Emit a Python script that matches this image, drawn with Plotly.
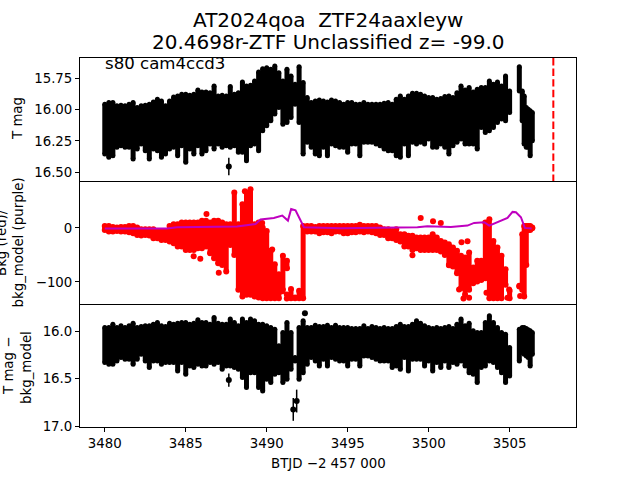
import plotly.graph_objects as go
from plotly.subplots import make_subplots

FONT = "DejaVu Sans"

# --- DATA ---
btjd = [3480.0, 3480.25, 3480.5, 3480.75, 3481.0, 3481.25, 3481.5, 3481.75, 3482.0, 3482.25,
        3482.5, 3482.75, 3483.0, 3483.25, 3483.5, 3483.75, 3484.0, 3484.25, 3484.5, 3484.75,
        3485.0, 3485.25, 3485.5, 3485.75, 3486.0, 3486.25, 3486.5, 3486.75, 3487.0, 3487.25,
        3487.5, 3487.75, 3488.0, 3488.25, 3488.5, 3488.75, 3489.0, 3489.25, 3489.5, 3489.75,
        3490.0, 3490.25, 3490.5, 3490.75, 3491.0, 3491.25, 3491.5, 3491.75, 3492.0, 3492.25,
        3492.5, 3492.75, 3493.0, 3493.25, 3493.5, 3493.75, 3494.0, 3494.25, 3494.5, 3494.75,
        3495.0, 3495.25, 3495.5, 3495.75, 3496.0, 3496.25, 3496.5, 3496.75, 3497.0, 3497.25,
        3497.5, 3497.75, 3498.0, 3498.25, 3498.5, 3498.75, 3499.0, 3499.25, 3499.5, 3499.75,
        3500.0, 3500.25, 3500.5, 3500.75, 3501.0, 3501.25, 3501.5, 3501.75, 3502.0, 3502.25,
        3502.5, 3502.75, 3503.0, 3503.25, 3503.5, 3503.75, 3504.0, 3504.25, 3504.5, 3504.75,
        3505.0, 3505.6, 3505.78, 3505.9, 3506.03, 3506.15, 3506.27, 3506.4]

# T mag, upper and lower edge of the black band
tmag_top = [15.938, 15.925, 15.925, 15.951, 15.946, 15.951, 15.938, 15.925, 15.965, 15.951,
            15.946, 15.938, 15.92, 15.898, 15.912, 15.951, 15.912, 15.88, 15.872, 15.859,
            15.859, 15.867, 15.859, 15.824, 15.84, 15.84, 15.846, 15.793, 15.872, 15.867,
            15.872, 15.798, 15.859, 15.846, 15.761, 15.793, 15.787, 15.753, 15.681, 15.655,
            15.647, 15.66, 15.634, 15.687, 15.753, 15.66, 15.713, 15.779, 15.639, 15.766,
            15.885, 15.925, 15.912, 15.904, 15.912, 15.92, 15.904, 15.912, 15.925, 15.938,
            15.925, 15.925, 15.938, 15.938, 15.925, 15.938, 15.938, 15.938, 15.938, 15.93,
            15.925, 15.938, 15.898, 15.872, 15.898, 15.872, 15.851, 15.851, 15.859, 15.872,
            15.885, 15.885, 15.898, 15.893, 15.877, 15.872, 15.885, 15.846, 15.793, 15.824,
            15.806, 15.84, 15.819, 15.806, 15.806, 15.753, 15.779, 15.761, 15.793, 15.713,
            15.832, 15.639, 15.832, 15.872, 15.965, 15.978, 15.991, 16.004]
tmag_bot = [16.375, 16.401, 16.388, 16.322, 16.309, 16.322, 16.322, 16.414, 16.335, 16.295,
            16.348, 16.414, 16.335, 16.348, 16.401, 16.375, 16.335, 16.322, 16.388, 16.309,
            16.441, 16.335, 16.375, 16.309, 16.375, 16.348, 16.295, 16.335, 16.295, 16.322,
            16.309, 16.322, 16.309, 16.361, 16.361, 16.428, 16.309, 16.295, 16.348, 16.19,
            16.15, 16.11, 16.057, 16.004, 16.137, 16.123, 16.084, 15.978, 16.123, 16.375,
            16.282, 16.322, 16.375, 16.388, 16.322, 16.388, 16.295, 16.309, 16.322, 16.322,
            16.361, 16.295, 16.295, 16.388, 16.282, 16.282, 16.282, 16.295, 16.309, 16.335,
            16.348, 16.348, 16.388, 16.401, 16.295, 16.388, 16.282, 16.295, 16.282, 16.295,
            16.256, 16.322, 16.322, 16.295, 16.322, 16.375, 16.309, 16.282, 16.256, 16.295,
            16.295, 16.295, 16.335, 16.163, 16.203, 16.19, 16.163, 16.123, 16.097, 16.11,
            16.044, 15.872, 16.11, 16.295, 16.322, 16.322, 16.388, 16.269]

# Background flux, upper and lower edge of the red band
bkg_top = [9.3, 9.3, 7.4, 6.2, 7.4, 7.4, 9.3, 9.3, 6.2, 3.1,
           3.1, 3.1, 3.1, 0, 0, 0, 9.3, 12.4, 12.4, 15.5,
           15.5, 15.5, 15.5, 15.5, 18.6, 18.6, 15.5, 18.6, 18.6, 15.5,
           12.4, 12.4, 71, 12.4, 49.4, 71, 77.2, 12.4, 15.5, 6.2,
           0, -37, -61.7, -80.2, -46.2, -55.5, -107.9, -123.4, -111, 9.3,
           9.3, 9.3, 7.4, 9.3, 9.3, 9.3, 9.3, 9.3, 9.3,
           9.3, 9.3, 9.3, 9.3, 11.2, 9.3, 9.3, 9.3, 9.3, 6.2,
           3.1, 3.1, 0, 3.1, -6.1, -6.1, -9.2, -9.2, -12.3, -12.3,
           -12.3, -12.3, -6.1, -12.3, -18.5, -21.5, -24.6, -30.8, -37, -46.2,
           -49.3, -40, -67.8, -55.5, -55.5, 15.5, 21.6, -18.5, -30.8, -46.2,
           -70.9, -111, -101.8, -6.1, 9.3, 9.3, 9.3, 9.3, 6.2][:108]
bkg_bot = [-9.2, -12.3, -12.3, -11, -12.3, -12.3, -13.5, -15.4, -18.5, -19.7,
           -18.5, -19.7, -24.6, -24.6, -27.7, -27.7, -30.8, -33.9, -40, -40,
           -46.2, -46.2, -46.2, -43, -43, -40, -52.4, -61.7, -70.9, -74,
           -86.3, -37, -55.5, -120.3, -132.6, -129.5, -129.5, -132.6, -134.5, -135.7,
           -135.7, -135.7, -135.7, -135.7, -120.3, -80.2, -135.7, -135.7, -135.7, -135.7,
           -12.3, -12.3, -12.3, -15.4, -13.5, -13.5, -15.4, -12.3, -12.3,
           -15.4, -15.4, -13.5, -13.5, -12.3, -13.5, -12.3, -13.5, -15.4, -18.5,
           -18.5, -24.6, -24.6, -27.7, -30.8, -40, -40, -46.2, -43.1, -46.2,
           -46.2, -46.2, -46.2, -46.2, -49.3, -55.5, -74, -77.1, -89.4, -117.2,
           -129.5, -120.3, -107.9, -104.8, -101.8, -98.7, -135.7, -135.7, -135.7, -135.7,
           -111, -135.7, -114, -120.3, -132.6, -74, -9.2, -9.2, -6.1][:108]

# Scattered red points outside the band
bkg_pts_t = [3485.49, 3485.9, 3486.28, 3487.04, 3488.65, 3489.72, 3490.34, 3491.24, 3490.96, 3491.5,
             3491.24, 3490.75, 3499.0, 3499.51, 3500.27, 3500.75, 3502.03, 3502.4, 3501.26, 3501.88,
             3502.15, 3502.5, 3503.57, 3504.97, 3504.87, 3505.65, 3506.2]
bkg_pts_v = [-52.4, -57.3, 26, -83.2, 67.9, 9.3, -40, -123.4, -117.2, -129.5,
             -130.8, -120.3, -50.5, 18.6, 12.4, 9.3, -26.5, -24.6, -69, -114,
             -130.8, -129.5, -120.3, -114, -129.5, -126.4, 0]

model_t = [3480.0, 3483.84, 3484.46, 3487.35, 3488.17, 3489.31, 3489.62, 3490.44, 3490.96, 3491.31,
           3491.51, 3491.78, 3492.3, 3494.56, 3497.76, 3499.31, 3499.92, 3501.37, 3502.4, 3502.81,
           3503.43, 3503.74, 3504.87, 3505.18, 3505.39, 3505.7, 3505.94, 3506.36]
model_v = [-1.2, -1.2, 1.3, 1.9, 2.5, 7.4, 15.5, 18.6, 22.9, 13.6,
           35.2, 32.8, 1.3, -0.6, 0, 1.3, 3.1, 1.9, 4.4, 9.3,
           10.5, 4.4, 18.6, 29.7, 29, 19.8, 0, -1.2]

# T mag minus model, upper and lower edge of the black band
sub_top = [15.937, 15.937, 15.902, 15.937, 15.92, 15.937, 15.92, 15.892, 15.937, 15.927,
           15.92, 15.92, 15.902, 15.885, 15.92, 15.927, 15.892, 15.902, 15.892, 15.885,
           15.885, 15.902, 15.892, 15.856, 15.885, 15.885, 15.902, 15.832, 15.892, 15.902,
           15.902, 15.849, 15.885, 15.92, 15.849, 15.885, 15.849, 15.867, 15.902, 15.902,
           15.92, 15.937, 15.955, 16.13, 15.99, 15.885, 15.99, 16.253, 15.937, 15.867,
           15.937, 15.937, 15.913, 15.927, 15.927, 15.913, 15.937, 15.913, 15.937,
           15.937, 15.937, 15.948, 15.948, 15.948, 15.92, 15.948, 15.927, 15.937, 15.948,
           15.937, 15.948, 15.948, 15.927, 15.902, 15.927, 15.927, 15.902, 15.867, 15.892,
           15.92, 15.937, 15.948, 15.937, 15.948, 15.937, 15.927, 15.948, 15.902, 15.849,
           15.92, 15.892, 15.972, 15.99, 15.99, 15.885, 15.814, 15.885, 15.937, 15.99,
           16.007, 16.148, 15.955, 15.937, 15.937, 15.948, 15.962, 15.972, 15.99][:108]
sub_bot = [16.358, 16.376, 16.376, 16.341, 16.306, 16.323, 16.323, 16.376, 16.323, 16.271,
           16.341, 16.411, 16.341, 16.341, 16.376, 16.358, 16.358, 16.358, 16.446, 16.358,
           16.481, 16.393, 16.411, 16.376, 16.393, 16.393, 16.358, 16.376, 16.358, 16.428,
           16.393, 16.393, 16.411, 16.428, 16.516, 16.621, 16.464, 16.464, 16.621, 16.657,
           16.534, 16.569, 16.481, 16.464, 16.569, 16.534, 16.428, 16.341, 16.534, 16.464,
           16.376, 16.306, 16.341, 16.393, 16.323, 16.393, 16.306, 16.323, 16.341,
           16.341, 16.393, 16.323, 16.323, 16.393, 16.288, 16.288, 16.306, 16.323, 16.341,
           16.341, 16.341, 16.411, 16.393, 16.428, 16.306, 16.446, 16.323, 16.323, 16.323,
           16.393, 16.341, 16.446, 16.358, 16.411, 16.341, 16.411, 16.358, 16.376, 16.341,
           16.393, 16.464, 16.481, 16.569, 16.411, 16.393, 16.341, 16.358, 16.411, 16.464,
           16.569, 16.499, 16.341, 16.253, 16.271, 16.288, 16.306, 16.393, 16.271][:108]

# Points that sit away from the bands, with their error bars
t_out_t = [3487.66]
t_out_m = [16.454]
t_out_e = [0.07]
sub_out_t = [3487.66, 3491.64, 3491.85, 3492.36]
sub_out_m = [16.516, 16.825, 16.737, 15.814]
sub_out_e = [0.07, 0.12, 0.12, 0.02]

alert_t = [3507.7, 3507.7]
alert_y = [15.59, 16.57]

fig = make_subplots(rows=3, cols=1, shared_xaxes=True, vertical_spacing=0)


def add_band(row, top, bot, color, inset, size):
    # the lists hold the outer edge of the blob, marker centres sit a bit inside it
    n = min(len(top), len(bot))
    t = btjd[:n]
    y0 = [v + inset for v in top[:n]]
    y1 = [v - inset for v in bot[:n]]
    fig.add_trace(go.Scatter(
        x=t, y=y0, mode="markers", marker=dict(color=color, size=size),
        error_y=dict(type="data", symmetric=False,
                     array=[max(b - a, 0) for a, b in zip(y0, y1)],
                     arrayminus=[max(a - b, 0) for a, b in zip(y0, y1)],
                     color=color, thickness=5, width=0),
    ), row=row, col=1)
    fig.add_trace(go.Scatter(x=t, y=y1, mode="markers", marker=dict(color=color, size=size)), row=row, col=1)


def add_points(row, t, m, e):
    fig.add_trace(go.Scatter(
        x=t, y=m, mode="markers", marker=dict(color="black", size=6),
        error_y=dict(type="data", array=e, color="black", thickness=1.5, width=0),
    ), row=row, col=1)


add_band(1, tmag_top, tmag_bot, "black", 0.02, 5)
add_points(1, t_out_t, t_out_m, t_out_e)
fig.add_trace(go.Scatter(x=alert_t, y=alert_y, mode="lines",
                         line=dict(color="red", width=2, dash="7.4px,3.2px")), row=1, col=1)

add_band(2, bkg_top, bkg_bot, "red", -5.5, 6)
fig.add_trace(go.Scatter(x=bkg_pts_t, y=bkg_pts_v, mode="markers",
                         marker=dict(color="red", size=6)), row=2, col=1)
fig.add_trace(go.Scatter(x=model_t, y=model_v, mode="lines",
                         line=dict(color="#bf00bf", width=2)), row=2, col=1)

add_band(3, sub_top, sub_bot, "black", 0.026, 5)
add_points(3, sub_out_t, sub_out_m, sub_out_e)

axis_style = dict(showline=True, linecolor="black", linewidth=1,
                  showgrid=False, zeroline=False, tickcolor="black", ticklen=4, tickwidth=1,
                  tickfont=dict(family=FONT, size=13.33, color="black"))
fig.update_xaxes(**axis_style)
fig.update_yaxes(**axis_style, ticks="outside", mirror=True)
fig.update_xaxes(range=[3478.47, 3509.1], ticks="", showticklabels=False)
# only the top panel mirrors its x line, so the shared edges are not drawn twice
fig.update_xaxes(mirror=True, row=1, col=1)
fig.update_xaxes(ticks="outside", showticklabels=True, tickvals=[3480, 3485, 3490, 3495, 3500, 3505],
                 tickformat="d", row=3, col=1)
fig.update_yaxes(range=[16.57, 15.59], tickvals=[15.75, 16.0, 16.25, 16.5], tickformat=".2f", row=1, col=1)
fig.update_yaxes(range=[-141, 87], tickvals=[-100, 0], row=2, col=1)
fig.update_yaxes(range=[17.01, 15.716], tickvals=[16.0, 16.5, 17.0], tickformat=".1f", row=3, col=1)


def label(text, px, py, size=13.33, angle=0):
    fig.add_annotation(text=text, xref="paper", yref="paper", x=(px - 80) / 496, y=(427 - py) / 369,
                       xanchor="center", yanchor="middle", showarrow=False, textangle=angle,
                       font=dict(family=FONT, size=size, color="black"))


label("AT2024qoa  ZTF24aaxleyw", 328, 20, size=20)
label("20.4698r-ZTF Unclassified z= -99.0", 328, 42, size=20)
label("s80 cam4ccd3", 165, 64, size=16.6)
label("T mag", 17, 119, angle=-90)
label("Bkg (red)/", 2, 243, angle=-90)
label("bkg_model (purple)", 18.5, 243, angle=-90)
label("T mag \u2212", 8, 366, angle=-90)
label("bkg_model", 26, 368, angle=-90)
label("BTJD \u22122 457 000", 328, 463)

fig.update_layout(
    width=640, height=480, showlegend=False,
    margin=dict(l=80, r=64, t=58, b=53),
    plot_bgcolor="white", paper_bgcolor="white",
)
fig.write_html("out.html", config={"displayModeBar": False},
               post_script="document.body.style.margin='0';")
